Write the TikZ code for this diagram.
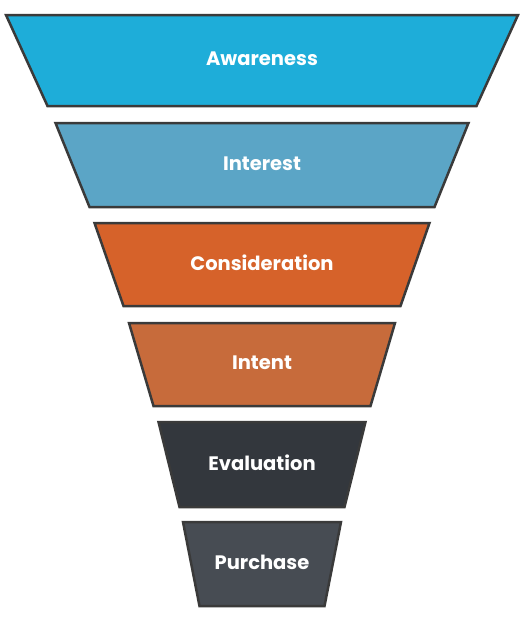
\documentclass[tikz,border=0pt]{standalone}
\usepackage{fontspec}
\setmainfont{Poppins}
\usepackage{tikz}

\definecolor{awarecol}{HTML}{1EADD9}
\definecolor{interestcol}{HTML}{5BA5C6}
\definecolor{considercol}{HTML}{D6622A}
\definecolor{intentcol}{HTML}{C76B3B}
\definecolor{evalcol}{HTML}{33373D}
\definecolor{purchasecol}{HTML}{474C53}
\definecolor{edgecol}{HTML}{3A3A3A}

\begin{document}
\begin{tikzpicture}[x=1pt, y=-1pt,
        stage/.style = {draw=edgecol, line width=2.5pt, line join=miter},
        label/.style = {text=white, font=\fontsize{19.5}{23}\selectfont\bfseries}]
        \useasboundingbox (0,0) rectangle (525,621);
        %% Funnel stages: top y, bottom y, top half width, bottom half width
        \foreach \yt/\yb/\wt/\wb/\col/\name/\txt in {
            15/106/256/214.5/awarecol/aware/Awareness,
            123/207/206.5/172.5/interestcol/interest/Interest,
            223/306/167.5/138.5/considercol/consider/Consideration,
            323/406/133/108.5/intentcol/intent/Intent,
            422/507/103.5/82.5/evalcol/eval/Evaluation,
            522/606/79/62.5/purchasecol/purchase/Purchase}{
            \draw[stage, fill=\col] (262-\wt,\yt) -- (262+\wt,\yt) -- (262+\wb,\yb) -- (262-\wb,\yb) -- cycle;
            \node[label] (\name) at (262,{(\yt+\yb)/2-1.5}) {\txt};
        }
    \end{tikzpicture}
\end{document}
